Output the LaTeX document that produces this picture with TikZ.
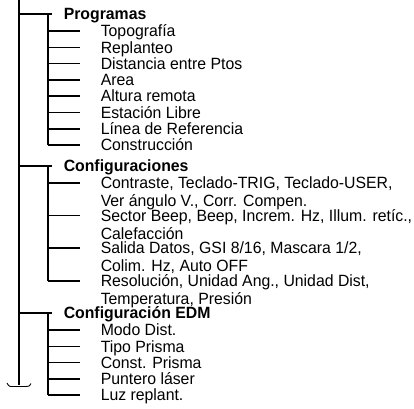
\documentclass[tikz,border=0pt]{standalone}
\usepackage{fontspec}
\setmainfont{Liberation Sans}[FakeStretch=0.97]
\usetikzlibrary{positioning,calc}

\begin{document}
\begin{tikzpicture}[x=1pt,y=-1pt,line width=1.5pt,
                    item/.style={anchor=west,inner sep=0pt,text height=11.5pt,text depth=0pt,
                    font=\fontsize{16.3}{17}\selectfont},
                    head/.style={item,font=\fontsize{16.3}{17}\selectfont\bfseries}]
\useasboundingbox (0,0) rectangle (414,408);

% trunk
\coordinate (top) at (19,0);
\coordinate (foot) at (19,385);
\draw (top) -- (foot);
\draw[line width=0.9pt] (7,383) .. controls (9,386.5) .. (13,386.5) -- (26,386.5)
      .. controls (29,386.5) .. (31,383.5);

% Programas
\node[head] (prog) at (63,14) {Programas};
\coordinate (progfork) at (48,14);
\draw (top |- prog) -- ([xshift=-11pt]prog.west);
\foreach \t [count=\i] in {Topografía,Replanteo,Distancia entre Ptos,Area,Altura remota,
        Estación Libre,Línea de Referencia,Construcción} {
  \node[item] (p\i) at (100,{31+16.3*(\i-1)}) {\t};
  \draw (progfork |- p\i) -- ([xshift=-20pt]p\i.west);
}
\draw (progfork) -- (progfork |- p8);

% Configuraciones
\node[head] (conf) at (63,166) {Configuraciones};
\coordinate (conffork) at (48,166);
\draw (top |- conf) -- ([xshift=-11pt]conf.west);
\foreach \a/\b [count=\i] in {{Contraste, Teclado-TRIG, Teclado-USER,}/{Ver ángulo V., Corr. Compen.},
        {Sector Beep, Beep, Increm. Hz, Illum. retíc.,}/{Calefacción},
        {Salida Datos, GSI 8/16, Mascara 1/2,}/{Colim. Hz, Auto OFF},
        {Resolución, Unidad Ang., Unidad Dist,}/{Temperatura, Presión}} {
  \node[item] (c\i) at (100,{183+32.6*(\i-1)}) {\a};
  \node[item,below=4.8pt of c\i.south west,anchor=north west] (c\i x) {\b};
  \draw (conffork |- c\i) -- ([xshift=-20pt]c\i.west);
}
\draw (conffork) -- (conffork |- c4);

% Configuracion EDM
\node[head] (edm) at (63,313) {Configuración EDM};
\coordinate (edmfork) at (48,313);
\draw (top |- edm) -- ([xshift=-11pt]edm.west);
\foreach \t [count=\i] in {Modo Dist.,Tipo Prisma,Const. Prisma,Puntero láser,Luz replant.} {
  \node[item] (e\i) at (100,{330+16.3*(\i-1)}) {\t};
  \draw (edmfork |- e\i) -- ([xshift=-20pt]e\i.west);
}
\draw (edmfork) -- (edmfork |- e5);

\end{tikzpicture}
\end{document}
